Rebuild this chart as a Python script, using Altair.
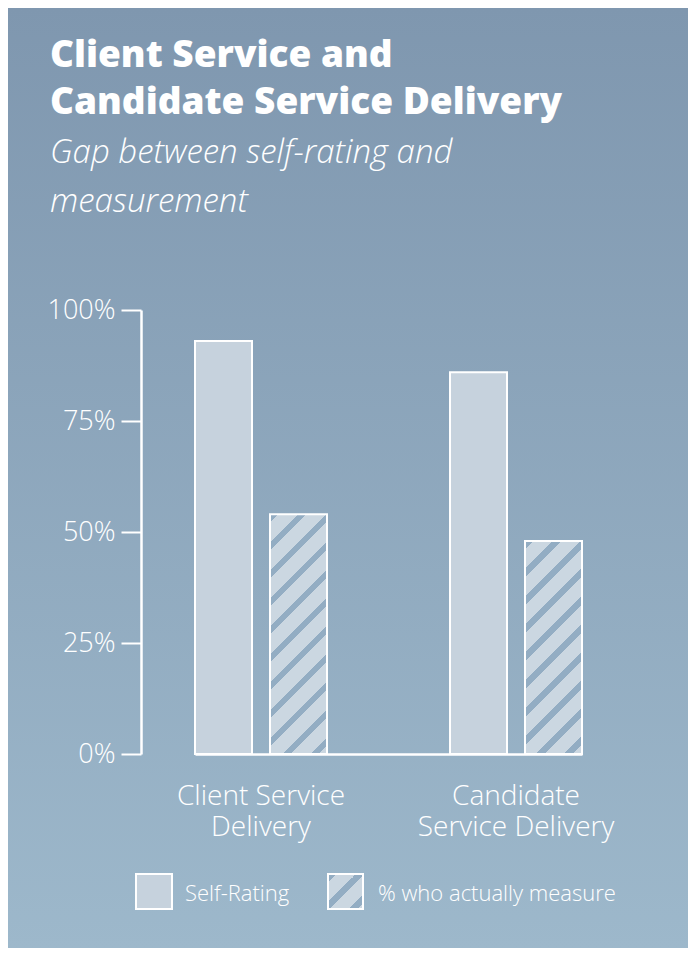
import altair as alt
import pandas as pd

# ---- data ----
title_lines = ["Client Service and", "Candidate Service Delivery"]
subtitle_lines = ["Gap between self-rating and", "measurement"]
categories = ["Client Service Delivery", "Candidate Service Delivery"]
category_lines = [["Client Service", "Delivery"], ["Candidate", "Service Delivery"]]
series = ["Self-Rating", "% who actually measure"]
self_rating = [93, 86]
actually_measure = [54, 48]

rows = []
for c, s, m in zip(categories, self_rating, actually_measure):
    rows.append({"category": c, "series": series[0], "value": s})
    rows.append({"category": c, "series": series[1], "value": m})
df = pd.DataFrame(rows)

# ---- layout / style ----
W, H = 504, 444
PAD = {"left": 133, "top": 302, "right": 43, "bottom": 194}
FONT = "Open Sans"
BAR_W = 57
SOLID = "#c6d2dd"
HATCH_LIGHT = "#cbd7e1"
HATCH_DARK = "#93adc3"
PERIOD = 28.0   # stripe period measured along x+y (px)
DARK_FRAC = 0.30


def hatch_gradient(w, h):
    """45-degree stripes ("/") as a hard-stop linear gradient in bbox units."""
    s = w + h
    x2 = w * s / (w * w + h * h)
    y2 = h * s / (w * w + h * h)
    stops = []
    step = PERIOD / s
    d = DARK_FRAC * step
    t = 0.0
    while t < 1.0:
        a, b = t, min(t + d, 1.0)
        stops += [alt.GradientStop(offset=a, color=HATCH_DARK),
                  alt.GradientStop(offset=b, color=HATCH_DARK)]
        nb = min(t + step, 1.0)
        stops += [alt.GradientStop(offset=b, color=HATCH_LIGHT),
                  alt.GradientStop(offset=nb, color=HATCH_LIGHT)]
        t += step
    return alt.LinearGradient(gradient="linear", stops=stops, x1=0, y1=0, x2=x2, y2=y2)


label_expr = " : ".join(
    f"datum.label == '{c}' ? {lines!r}" for c, lines in zip(categories, category_lines)
) + " : datum.label"

x_enc = alt.X(
    "category:N",
    sort=categories,
    scale=alt.Scale(domain=categories, range=[54, 441], paddingInner=0.4824, paddingOuter=0),
    axis=alt.Axis(
        title=None, ticks=False, labelAngle=0, domainColor="white", domainWidth=2.5,
        labelColor="white", labelFont=FONT, labelFontSize=28, labelFontWeight=300,
        labelPadding=28, labelLineHeight=31, labelLimit=400, labelExpr=label_expr,
        zindex=1,
    ),
)
xo_enc = alt.XOffset("series:N", sort=series,
                     scale=alt.Scale(domain=series, paddingInner=0.24, paddingOuter=0))
y_enc = alt.Y(
    "value:Q",
    scale=alt.Scale(domain=[0, 100], nice=False),
    axis=alt.Axis(
        title=None, values=[0, 25, 50, 75, 100], labelExpr="datum.value + '%'",
        grid=False, domainColor="white", domainWidth=2.5, tickColor="white",
        tickSize=20, tickWidth=2, labelColor="white", labelFont=FONT,
        labelFontSize=27, labelFontWeight=300, labelPadding=6, zindex=1,
    ),
)

one = alt.Data(values=[{}])

# background gradient over the whole canvas
bg = alt.Chart(one).mark_rect(
    fill=alt.LinearGradient(
        gradient="linear",
        stops=[alt.GradientStop(offset=0, color="#7f97af"),
               alt.GradientStop(offset=1, color="#9db8cb")],
        x1=0, y1=0, x2=0, y2=1,
    )
).encode(
    x=alt.value(-PAD["left"]), x2=alt.value(W + PAD["right"]),
    y=alt.value(-PAD["top"]), y2=alt.value(H + PAD["bottom"]),
)

# title and subtitle
title = alt.Chart(one).mark_text(
    align="left", baseline="alphabetic", color="white", font=FONT,
    fontSize=37, fontWeight=800, lineHeight=47,
).encode(x=alt.value(-91), y=alt.value(-243), text=alt.value(title_lines))
subtitle = alt.Chart(one).mark_text(
    align="left", baseline="alphabetic", color="white", font=FONT,
    fontSize=33, fontWeight=300, fontStyle="italic", lineHeight=49,
).encode(x=alt.value(-91), y=alt.value(-147), text=alt.value(subtitle_lines))

base = alt.Chart(df)

solid = base.transform_filter(alt.datum.series == series[0]).mark_bar(
    fill=SOLID, stroke="white", strokeWidth=2
).encode(x=x_enc, xOffset=xo_enc, y=y_enc)

layers = [bg, title, subtitle, solid]
for c, v in zip(categories, actually_measure):
    h = v / 100 * H
    layers.append(
        base.transform_filter(
            (alt.datum.series == series[1]) & (alt.datum.category == c)
        ).mark_bar(fill=hatch_gradient(BAR_W, h), stroke="white", strokeWidth=2)
        .encode(x=x_enc, xOffset=xo_enc, y=y_enc)
    )

# manual legend
leg = pd.DataFrame({"series": series})
LEG_Y0, LEG_Y1 = 564, 599
leg_x = [(-5, 31, 44), (187, 222, 237)]
for (x0, x1, tx), s in zip(leg_x, series):
    fill = SOLID if s == series[0] else hatch_gradient(x1 - x0, LEG_Y1 - LEG_Y0)
    sub = alt.Chart(leg).transform_filter(alt.datum.series == s)
    layers.append(
        sub.mark_rect(fill=fill, stroke="white", strokeWidth=2).encode(
            x=alt.value(x0), x2=alt.value(x1), y=alt.value(LEG_Y0), y2=alt.value(LEG_Y1)
        )
    )
    layers.append(
        sub.mark_text(align="left", baseline="alphabetic", color="white", font=FONT,
                      fontSize=22, fontWeight=300).encode(
            x=alt.value(tx), y=alt.value(591), text="series:N"
        )
    )

chart = alt.layer(*layers).properties(
    width=W, height=H, padding=PAD,
    autosize=alt.AutoSizeParams(type="none"),
    background="#8ea8be",
).configure_view(stroke=None)

chart.save("out.html", embed_options={"renderer": "svg", "actions": False})
